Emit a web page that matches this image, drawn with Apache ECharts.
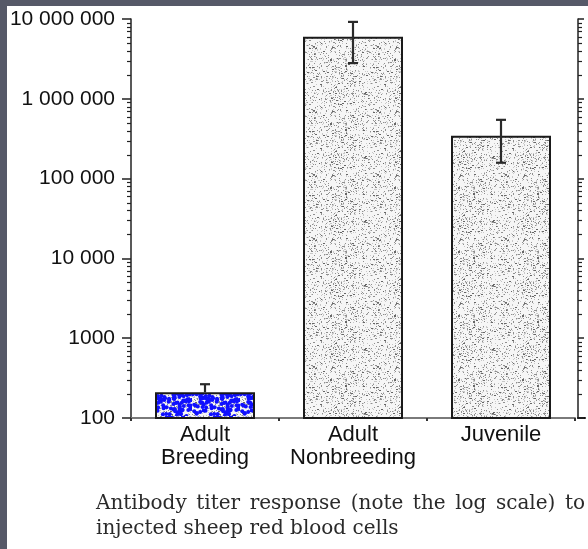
<!DOCTYPE html>
<html><head><meta charset="utf-8">
<script src="https://cdn.jsdelivr.net/npm/echarts@6/dist/echarts.min.js"></script>
<style>html,body{margin:0;padding:0;background:#fff}#c{width:588px;height:549px}</style>
</head><body><div id="c"></div>
<script>
// ---- data ----
const categories = ['Adult\nBreeding', 'Adult\nNonbreeding', 'Juvenile'];
const titerMeans = [210, 6000000, 345000];
const errorUpper = [265, 9200000, 545000];
const errorLower = [210, 2800000, 158000];
const yTickValues = [100, 1000, 10000, 100000, 1000000, 10000000];
const yTickLabels = ['100', '1000', '10 000', '100 000', '1 000 000', '10 000 000'];
const minorMultipliers = [2, 3, 4, 5, 6, 7, 8, 9];
const captionLine1 = 'Antibody titer response (note the log scale) to';
const captionLine2 = 'injected sheep red blood cells';

// ---- textures (style only) ----
function h(i) { const x = Math.sin(i * 12.9898 + 78.233) * 43758.5453; return x - Math.floor(x); }
function speckleCanvas(w, ht, seed) {
  const cv = document.createElement('canvas'); cv.width = w; cv.height = ht;
  const ctx = cv.getContext('2d');
  ctx.fillStyle = '#f6f6f6'; ctx.fillRect(0, 0, w, ht);
  for (let y = 0; y < ht; y++) for (let x = 0; x < w; x++) {
    const r = h(seed + y * w + x);
    if (r < 0.09) { ctx.fillStyle = '#8f8f8f'; ctx.fillRect(x, y, 1, 1); }
    else if (r < 0.17) { ctx.fillStyle = '#c8c8c8'; ctx.fillRect(x, y, 1, 1); }
    else if (r < 0.185) { ctx.fillStyle = '#666'; ctx.fillRect(x, y, 2, 1); }
  }
  return cv;
}
function blueCanvas() {
  const cv = speckleCanvas(48, 32, 999);
  const ctx = cv.getContext('2d');
  ctx.fillStyle = '#1010ff';
  for (let k = 0; k < 140; k++) {
    const x = h(5000 + k) * 48, y = h(7000 + k) * 32;
    ctx.beginPath(); ctx.arc(x, y, 2.0, 0, Math.PI * 2); ctx.fill();
  }
  return cv;
}
const grayPattern = { image: speckleCanvas(64, 64, 1), repeat: 'repeat' };
const bluePattern = { image: blueCanvas(), repeat: 'repeat' };

// minor tick values from the log-axis structure
const minorTickValues = [];
yTickValues.slice(0, -1).forEach(d => minorMultipliers.forEach(m => minorTickValues.push(d * m)));

const labelMap = {};
yTickValues.forEach((v, i) => labelMap[v] = yTickLabels[i]);

const chart = echarts.init(document.getElementById('c'), null, { renderer: 'canvas' });

// caption justification
const capFont = '20px "DejaVu Serif"';
const mctx = document.createElement('canvas').getContext('2d');
mctx.font = capFont;
const words = captionLine1.split(' ');
const capLeft = 96, capRight = 585;
const wordW = words.map(w => mctx.measureText(w).width);
const gap = (capRight - capLeft - wordW.reduce((a, b) => a + b, 0)) / (words.length - 1);
const captionGraphics = [];
let cx = capLeft;
words.forEach((w, i) => {
  captionGraphics.push({ type: 'text', x: cx, y: 504, silent: true,
    style: { text: w, font: capFont, fill: '#2a2a2a', verticalAlign: 'middle', align: 'left' } });
  cx += wordW[i] + gap;
});
captionGraphics.push({ type: 'text', x: capLeft, y: 529, silent: true,
  style: { text: captionLine2, font: capFont, fill: '#2a2a2a', verticalAlign: 'middle', align: 'left' } });

const frameGraphics = [
  { type: 'rect', shape: { x: 0, y: 0, width: 588, height: 6 }, style: { fill: '#565968' }, silent: true, z: 100 },
  { type: 'rect', shape: { x: 0, y: 0, width: 7, height: 549 }, style: { fill: '#565968' }, silent: true, z: 100 }
];

chart.setOption({
  animation: false,
  backgroundColor: '#fff',
  grid: [
    { left: 131, right: 13, top: 19, bottom: 131 },
    { left: 578, width: 7, top: 19, bottom: 131 }
  ],
  xAxis: [
    { type: 'category', gridIndex: 0, data: categories,
      axisLine: { lineStyle: { color: '#7a7a7a', width: 2 } },
      axisTick: { show: true, length: 3, lineStyle: { color: '#333', width: 2 } },
      axisLabel: { interval: 0, fontSize: 22, lineHeight: 23, margin: 5, color: '#111', fontFamily: 'Liberation Sans' } },
    { type: 'value', gridIndex: 1, min: 0, max: 1,
      axisLine: { show: true, lineStyle: { color: '#111', width: 2 } },
      axisTick: { show: false }, axisLabel: { show: false }, splitLine: { show: false } }
  ],
  yAxis: [
    { type: 'log', logBase: 10, gridIndex: 0, min: 100, max: 10000000,
      axisLine: { show: true, lineStyle: { color: '#222', width: 1.5 } },
      axisTick: { show: true, length: 9, lineStyle: { color: '#222', width: 1.5 } },
      splitLine: { show: false },
      axisLabel: { fontSize: 21, margin: 16, color: '#111', fontFamily: 'Liberation Sans',
        formatter: v => labelMap[Math.round(v)] || '' } },
    { type: 'log', logBase: 10, gridIndex: 1, min: 100, max: 10000000,
      axisLine: { show: true, lineStyle: { color: '#222', width: 1.5 } },
      axisTick: { show: true, inside: true, length: 6, lineStyle: { color: '#222', width: 1.5 } },
      splitLine: { show: false }, axisLabel: { show: false } }
  ],
  series: [
    { type: 'bar', xAxisIndex: 0, yAxisIndex: 0, barWidth: 100, z: 2,
      data: titerMeans.map((v, i) => ({ value: v,
        itemStyle: { color: i === 0 ? bluePattern : grayPattern, borderColor: '#1a1a1a', borderWidth: 2 } })) },
    { type: 'custom', xAxisIndex: 0, yAxisIndex: 0, silent: true, z: 4,
      data: categories.map((c, i) => [i, errorUpper[i], errorLower[i], titerMeans[i]]),
      encode: { x: 0, y: [1, 2] },
      renderItem(params, api) {
        const i = api.value(0);
        const top = api.coord([i, api.value(1)]);
        const bot = api.coord([i, api.value(2)]);
        const hw = 5, st = { stroke: '#2a2a2a', lineWidth: 2.2 };
        const ch = [
          { type: 'line', shape: { x1: top[0], y1: top[1], x2: bot[0], y2: bot[1] }, style: st },
          { type: 'line', shape: { x1: top[0] - hw, y1: top[1], x2: top[0] + hw, y2: top[1] }, style: st }
        ];
        if (api.value(2) < api.value(3)) {
          ch.push({ type: 'line', shape: { x1: bot[0] - hw, y1: bot[1], x2: bot[0] + hw, y2: bot[1] }, style: st });
        }
        return { type: 'group', children: ch };
      } }
  ],
  graphic: frameGraphics.concat(captionGraphics)
});

// y pixel via the chart's own log scale (some builds expect the value in log space)
function makeYPix(idx) {
  const raw = v => chart.convertToPixel({ yAxisIndex: idx }, v);
  const a = raw(yTickValues[0]), b = raw(yTickValues[yTickValues.length - 1]);
  if (isFinite(a) && isFinite(b) && Math.abs(a - b) > 50 && Math.abs(a - b) < 2000) return raw;
  return v => raw(Math.log10(v));
}
const yPix0 = makeYPix(0), yPix1 = makeYPix(1);

const tickGraphics = [];
const c0 = chart.convertToPixel({ xAxisIndex: 0 }, 0);
const c1 = chart.convertToPixel({ xAxisIndex: 0 }, 1);
const axisX = c0 - (c1 - c0) / 2;
const rightX = chart.convertToPixel({ xAxisIndex: 1 }, 0);
minorTickValues.forEach(v => {
  const y = Math.round(yPix0(v)) + 0.5;
  const yR = Math.round(yPix1(v)) + 0.5;
  if (isFinite(y)) tickGraphics.push({ type: 'line', silent: true, z: 50, shape: { x1: axisX - 4, y1: y, x2: axisX, y2: y }, style: { stroke: '#222', lineWidth: 1.2 } });
  if (isFinite(yR)) tickGraphics.push({ type: 'line', silent: true, z: 50, shape: { x1: rightX, y1: yR, x2: rightX + 4, y2: yR }, style: { stroke: '#222', lineWidth: 1.2 } });
});
chart.setOption({ graphic: frameGraphics.concat(captionGraphics, tickGraphics) });
</script></body></html>
